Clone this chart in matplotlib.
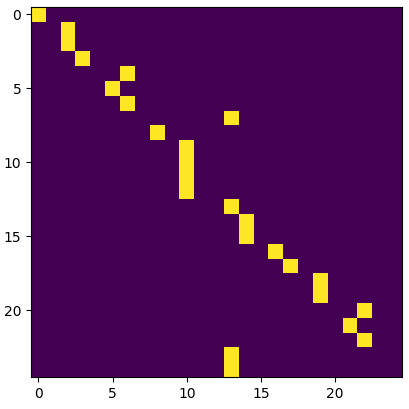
import numpy as np
import matplotlib.pyplot as plt

# column of the single "on" cell in each row
on_cols = [0, 2, 2, 3, 6, 5, 6, 13, 8, 10, 10, 10, 10, 13, 14, 14, 16, 17, 19, 19, 22, 21, 22, 13, 13]
n = 25

mat = np.zeros((n, n))
for row, col in enumerate(on_cols):
    mat[row, col] = 1

fig = plt.figure(figsize=(4.09, 4.09), dpi=100)
ax = fig.add_axes([31 / 409, 32 / 409, 371 / 409, 370 / 409])
ax.imshow(mat, cmap='viridis', aspect='auto')
ax.set_xticks([0, 5, 10, 15, 20])
ax.set_yticks([0, 5, 10, 15, 20])

fig.savefig('out.png', dpi=100)
